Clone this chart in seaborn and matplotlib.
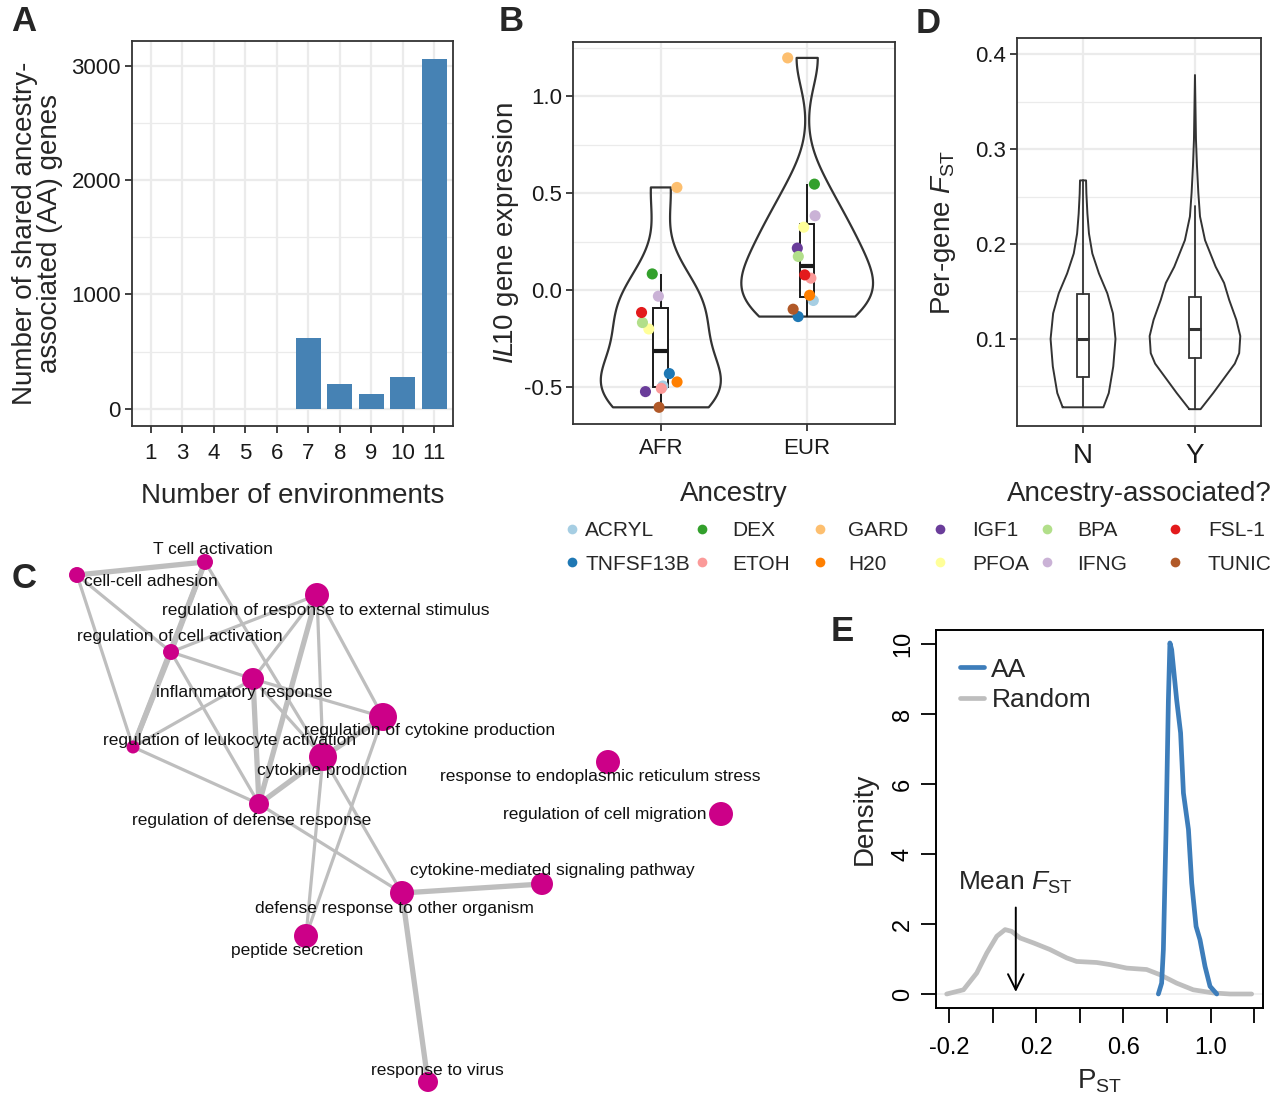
import numpy as np
import pandas as pd
import matplotlib
matplotlib.use('Agg')
import matplotlib.pyplot as plt
import seaborn as sns
from matplotlib.lines import Line2D
from matplotlib.ticker import MultipleLocator

sns.set_theme(style='white')
plt.rcParams['font.family'] = ['Liberation Sans', 'DejaVu Sans']
plt.rcParams['mathtext.fontset'] = 'custom'
plt.rcParams['mathtext.rm'] = 'Liberation Sans'
plt.rcParams['mathtext.it'] = 'Liberation Sans:italic'
plt.rcParams['mathtext.bf'] = 'Liberation Sans:bold'

#%% data

# A : shared AA genes per number of environments
env_counts = ['1', '3', '4', '5', '6', '7', '8', '9', '10', '11']
shared_aa_genes = [0, 0, 0, 0, 0, 621, 219, 131, 280, 3061]

# B : IL10 expression per treatment
treatments = ['ACRYL', 'TNFSF13B', 'DEX', 'ETOH', 'GARD', 'H20',
              'IGF1', 'PFOA', 'BPA', 'IFNG', 'FSL-1', 'TUNIC']
treatment_colors = ['#A6CEE3', '#1F78B4', '#33A02C', '#FB9A99', '#FDBF6F', '#FF7F00',
                    '#6A3D9A', '#FFFF99', '#B2DF8A', '#CAB2D6', '#E31A1C', '#B15928']
il10_afr = [-0.494, -0.430, 0.084, -0.506, 0.530, -0.473,
            -0.523, -0.200, -0.167, -0.031, -0.115, -0.604]
il10_eur = [-0.053, -0.136, 0.547, 0.062, 1.198, -0.026,
            0.217, 0.325, 0.174, 0.384, 0.079, -0.098]

# D : per-gene FST violins (outline) and box stats
aa_groups = ['N', 'Y']
fst_n_levels = [0.028, 0.043, 0.071, 0.100, 0.127, 0.148, 0.169, 0.190, 0.211, 0.232, 0.253, 0.267]
fst_n_halfwidth = [0.182, 0.230, 0.270, 0.290, 0.267, 0.217, 0.142, 0.083, 0.053, 0.039, 0.030, 0.027]
fst_y_levels = [0.026, 0.043, 0.057, 0.074, 0.085, 0.103, 0.120, 0.141, 0.159, 0.176,
                0.204, 0.229, 0.254, 0.282, 0.310, 0.378]
fst_y_halfwidth = [0.050, 0.163, 0.250, 0.356, 0.395, 0.405, 0.370, 0.306, 0.260, 0.185,
                   0.090, 0.045, 0.030, 0.018, 0.009, 0.0]
fst_box_q1 = [0.0603, 0.0796]
fst_box_med = [0.100, 0.110]
fst_box_q3 = [0.1474, 0.1439]
fst_box_lo = [0.028, 0.026]
fst_box_hi = [0.267, 0.240]

# E : PST densities
random_pst = [-0.211, -0.134, -0.073, -0.027, 0.019, 0.057, 0.087, 0.126, 0.187, 0.263, 0.340,
              0.385, 0.477, 0.538, 0.615, 0.706, 0.768, 0.844, 0.920, 1.012, 1.089, 1.188]
random_density = [0.0, 0.12, 0.60, 1.17, 1.65, 1.84, 1.79, 1.60, 1.46, 1.27, 1.03,
                  0.93, 0.90, 0.84, 0.74, 0.70, 0.55, 0.31, 0.12, 0.03, 0.0, 0.0]
aa_pst = [0.760, 0.775, 0.783, 0.795, 0.806, 0.813, 0.821, 0.844, 0.862, 0.875, 0.898,
          0.913, 0.933, 0.951, 0.974, 0.997, 1.028]
aa_density = [0.0, 0.31, 1.27, 4.6, 8.4, 10.03, 9.84, 8.4, 7.46, 5.74, 4.7,
              3.17, 1.93, 1.55, 0.79, 0.22, 0.0]
mean_fst = 0.106

# C : GO term network (layout)
go_terms = ['T cell activation', 'cell-cell adhesion',
            'regulation of response to external stimulus', 'regulation of cell activation',
            'inflammatory response', 'regulation of cytokine production',
            'regulation of leukocyte activation', 'cytokine production',
            'response to endoplasmic reticulum stress', 'regulation of cell migration',
            'regulation of defense response', 'cytokine-mediated signaling pathway',
            'defense response to other organism', 'peptide secretion', 'response to virus']
node_x = [205, 77, 317, 171, 253, 383, 133, 323, 608, 721, 259, 542, 402, 306, 428]
node_y = [562, 575, 595, 652, 679, 717, 747, 757, 762, 814, 804, 884, 893, 936, 1082]
node_size = [8, 8, 12, 8, 11, 14, 6.5, 14, 12, 12, 10, 11, 12, 12, 10]
label_x = [213, 151, 326, 180, 244, 430, 230, 332, 600, 605, 252, 552, 394, 297, 437]
label_y = [549, 581, 611, 637, 693, 731, 741, 770, 776, 814, 820, 870, 908, 951, 1071]
edges = [(0, 1, 1), (0, 3, 1), (0, 6, 1), (0, 7, 0), (1, 3, 0), (1, 6, 0), (3, 6, 1),
         (3, 2, 0), (3, 4, 0), (3, 10, 0), (6, 4, 0), (6, 10, 0), (4, 10, 1), (4, 5, 0),
         (4, 7, 0), (2, 4, 0), (2, 10, 1), (2, 7, 0), (2, 5, 0), (5, 7, 1), (7, 10, 1),
         (5, 13, 0), (7, 13, 0), (7, 12, 0), (10, 12, 0), (12, 11, 1), (12, 14, 1)]

#%% figure
W, H = 1280, 1095
fig = plt.figure(figsize=(12.8, 10.95), dpi=100)

def px_axes(left, top, right, bottom):
    return fig.add_axes([left / W, 1 - bottom / H, (right - left) / W, (bottom - top) / H])

def gg_style(ax, xpad=7):
    for s in ax.spines.values():
        s.set_color('#333333')
        s.set_linewidth(1.3)
    ax.grid(True, which='major', color='#EBEBEB', lw=1.6)
    ax.grid(True, which='minor', axis='y', color='#EBEBEB', lw=0.9)
    ax.set_axisbelow(True)
    ax.tick_params(which='major', direction='out', length=5, width=1.3, color='#333333',
                   labelsize=16, labelcolor='#1a1a1a', pad=3, left=True, bottom=True)
    ax.tick_params(axis='x', pad=xpad)
    ax.tick_params(which='minor', length=0)

# ---- A
ax_a = px_axes(132, 41, 453, 426)
sns.barplot(x=env_counts, y=shared_aa_genes, color='#4682B4', saturation=1,
            width=0.8, linewidth=0, ax=ax_a)
ax_a.set_xlim(-0.6, 9.6)
ax_a.set_ylim(-150, 3215)
ax_a.set_yticks([0, 1000, 2000, 3000])
ax_a.yaxis.set_minor_locator(MultipleLocator(500))
gg_style(ax_a, xpad=7)
ax_a.set_xlabel('Number of environments', fontsize=20, labelpad=14)
ax_a.set_ylabel('Number of shared ancestry-\nassociated (AA) genes', fontsize=20,
                labelpad=6, linespacing=0.95)

# ---- B
df_b = pd.DataFrame({
    'ancestry': ['AFR'] * len(il10_afr) + ['EUR'] * len(il10_eur),
    'il10': il10_afr + il10_eur,
    'treatment': treatments * 2,
})
ax_b = px_axes(573, 42, 895, 424)
for anc, bw, wd in [('AFR', 0.84, 0.82), ('EUR', 0.66, 0.9)]:
    sns.violinplot(data=df_b[df_b['ancestry'] == anc], x='ancestry', y='il10',
                   order=['AFR', 'EUR'], cut=0, inner=None, fill=False, color='#333333',
                   linewidth=1.6, density_norm='width', width=wd, bw_adjust=bw, ax=ax_b)
sns.boxplot(data=df_b, x='ancestry', y='il10', order=['AFR', 'EUR'], width=0.1,
            color='white', linecolor='#1a1a1a', linewidth=1.4, saturation=1,
            showfliers=False, showcaps=False, medianprops={'linewidth': 3}, ax=ax_b)
np.random.seed(3)
palette_b = dict(zip(treatments, treatment_colors))
sns.stripplot(data=df_b, x='ancestry', y='il10', hue='treatment', palette=palette_b,
              order=['AFR', 'EUR'], jitter=0.14, size=8, linewidth=0, legend=False,
              zorder=4, ax=ax_b)
ax_b.set_xlim(-0.6, 1.6)
ax_b.set_ylim(-0.69, 1.28)
ax_b.set_yticks([-0.5, 0, 0.5, 1.0])
ax_b.set_yticklabels(['-0.5', '0.0', '0.5', '1.0'])
ax_b.yaxis.set_minor_locator(MultipleLocator(0.25))
gg_style(ax_b, xpad=5)
ax_b.set_xlabel('Ancestry', fontsize=20, labelpad=16)
ax_b.set_ylabel(r'$\mathit{IL}\!\mathit{10}$ gene expression', fontsize=20, labelpad=2)

# legend laid out column by column like the ggplot guide
leg_cols = [(572, 585), (702, 732), (820, 848), (940, 972), (1047, 1077), (1175, 1208)]
fs_px = 15 * 100 / 72
for c, (dot_x, text_x) in enumerate(leg_cols):
    col_items = treatments[2 * c:2 * c + 2]
    handles = [Line2D([], [], marker='o', ls='', markersize=7, markeredgewidth=0,
                      color=palette_b[t], label=t) for t in col_items]
    hl = 0.6
    left = dot_x - hl * fs_px / 2
    pad = (text_x - left - hl * fs_px) / fs_px
    fig.legend(handles=handles, ncol=1, loc='upper left',
               bbox_to_anchor=(left / W, 1 - 521 / H), frameon=False, fontsize=15,
               handlelength=hl, handletextpad=pad, labelspacing=0.7,
               borderpad=0, borderaxespad=0)

# ---- D
ax_d = px_axes(1017, 38, 1261, 426)
for i, (lev, hw) in enumerate([(fst_n_levels, fst_n_halfwidth), (fst_y_levels, fst_y_halfwidth)]):
    lev = np.array(lev)
    hw = np.array(hw)
    xs = np.concatenate([i - hw, (i + hw)[::-1], [i - hw[0]]])
    ys = np.concatenate([lev, lev[::-1], [lev[0]]])
    ax_d.plot(xs, ys, color='#333333', lw=1.4, zorder=2)
box_stats = [dict(q1=fst_box_q1[i], med=fst_box_med[i], q3=fst_box_q3[i],
                  whislo=fst_box_lo[i], whishi=fst_box_hi[i], fliers=[]) for i in range(2)]
ax_d.bxp(box_stats, positions=[0, 1], widths=0.1, showcaps=False, showfliers=False,
         patch_artist=True,
         boxprops=dict(facecolor='white', edgecolor='#333333', lw=1.3),
         medianprops=dict(color='#333333', lw=2.2),
         whiskerprops=dict(color='#333333', lw=1.3), manage_ticks=False)
ax_d.set_xticks([0, 1])
ax_d.set_xticklabels(aa_groups)
ax_d.set_xlim(-0.59, 1.59)
ax_d.set_ylim(0.0083, 0.417)
ax_d.set_yticks([0.1, 0.2, 0.3, 0.4])
ax_d.set_yticklabels(['0.1', '0.2', '0.3', '0.4'])
ax_d.yaxis.set_minor_locator(MultipleLocator(0.05))
gg_style(ax_d, xpad=7)
ax_d.tick_params(axis='x', labelsize=20)
ax_d.set_xlabel('Ancestry-associated?', fontsize=20, labelpad=9)
ax_d.set_ylabel(r'Per-gene $\mathit{F}_{\mathrm{ST}}$', fontsize=20, labelpad=12)

# ---- E
ax_e = px_axes(936, 630, 1263, 1008)
ax_e.axhline(0, color='#EEEEEE', lw=1.2, zorder=0)
sns.lineplot(x=random_pst, y=random_density, sort=False, color='#BEBEBE', lw=3.4,
             label='Random', ax=ax_e, solid_capstyle='round', zorder=2)
sns.lineplot(x=aa_pst, y=aa_density, sort=False, color='#3D7DBA', lw=3.4,
             label='AA', ax=ax_e, solid_capstyle='round', zorder=3)
ax_e.annotate('', xy=(mean_fst, -0.02), xytext=(mean_fst, 2.55),
              arrowprops=dict(arrowstyle='->', lw=1.4, color='black', mutation_scale=28))
ax_e.text(mean_fst, 3.17, r'Mean $\mathit{F}_{\mathrm{ST}}$', ha='center', va='center',
          fontsize=19)
ax_e.set_xlim(-0.26, 1.24)
ax_e.set_ylim(-0.4, 10.4)
xt = [-0.2, 0.0, 0.2, 0.4, 0.6, 0.8, 1.0, 1.2]
ax_e.set_xticks(xt)
ax_e.set_xticklabels(['-0.2', '', '0.2', '', '0.6', '', '1.0', ''])
ax_e.set_yticks([0, 2, 4, 6, 8, 10])
ax_e.set_yticklabels(['0', '2', '4', '6', '8', '10'], rotation=90, va='center')
for s in ax_e.spines.values():
    s.set_color('black')
    s.set_linewidth(1.4)
ax_e.tick_params(direction='out', length=11, width=1.3, color='black', labelsize=17,
                 labelcolor='black', pad=5, left=True, bottom=True)
ax_e.tick_params(axis='x', pad=10)
ax_e.set_xlabel(r'$\mathrm{P}_{\mathrm{ST}}$', fontsize=20, labelpad=6)
ax_e.set_ylabel('Density', fontsize=20, labelpad=10)
h, l = ax_e.get_legend_handles_labels()
ax_e.legend(h[::-1], l[::-1], loc='upper left', bbox_to_anchor=(0.0, 0.99), frameon=False,
            fontsize=19, handlelength=0.9, handletextpad=0.3, labelspacing=0.25)

# ---- C
ax_c = px_axes(0, 535, 800, 1095)
ax_c.set_xlim(0, 800)
ax_c.set_ylim(1095, 535)
ax_c.axis('off')
for a, b, thick in edges:
    ax_c.plot([node_x[a], node_x[b]], [node_y[a], node_y[b]], color='#BEBEBE',
              lw=3.8 if thick else 2.3, solid_capstyle='round', zorder=1)
node_s = [2.07 * r ** 2 for r in node_size]
sns.scatterplot(x=node_x, y=node_y, s=node_s, color='#CC0088', linewidth=0, zorder=2,
                legend=False, ax=ax_c)
for name, lx, ly in zip(go_terms, label_x, label_y):
    ax_c.text(lx, ly, name, ha='center', va='center', fontsize=12.5, color='#111111', zorder=3)

# panel letters
for letter, x, y in [('A', 11, 5), ('B', 499, 5), ('D', 916, 7), ('C', 12, 562), ('E', 831, 615)]:
    fig.text(x / W, 1 - y / H, letter, fontsize=25, fontweight='bold', ha='left', va='top')

fig.savefig('out.png', dpi=100)
